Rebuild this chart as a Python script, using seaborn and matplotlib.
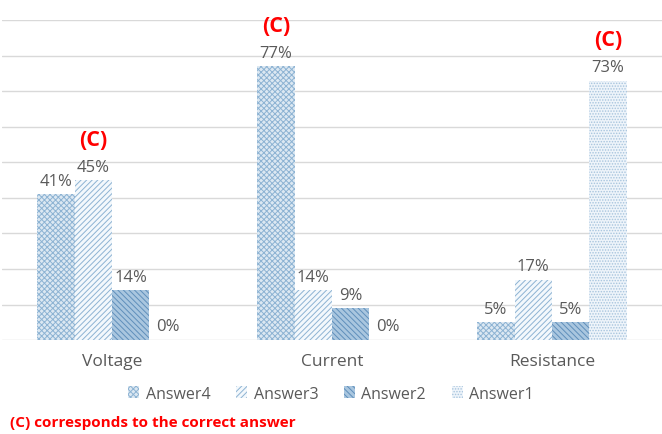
import pandas as pd
import seaborn as sns
import matplotlib.pyplot as plt
from matplotlib.patches import Patch

# data (percent of responses)
categories = ["Voltage", "Current", "Resistance"]
answers = ["Answer4", "Answer3", "Answer2", "Answer1"]
answer4 = [41, 77, 5]
answer3 = [45, 14, 17]
answer2 = [14, 9, 5]
answer1 = [0, 0, 73]
correct = {"Voltage": "Answer3", "Current": "Answer4", "Resistance": "Answer1"}

df = pd.DataFrame({
    "topic": categories * 4,
    "answer": [a for a in answers for _ in categories],
    "pct": answer4 + answer3 + answer2 + answer1,
})

sns.set_style("white")
plt.rcParams["font.family"] = ["Open Sans", "DejaVu Sans"]
plt.rcParams["hatch.linewidth"] = 0.7

# face colour, hatch colour, hatch pattern per answer
styles = {
    "Answer4": ("#dce8f2", "#8db3d3", "xxxxxx"),
    "Answer3": ("#f3f8fc", "#8db3d3", "//////"),
    "Answer2": ("#a9c6df", "#5f8fbb", "\\\\\\\\\\\\"),
    "Answer1": ("#eef4fa", "#a7c4dd", "......"),
}

fig, ax = plt.subplots(figsize=(6.62, 4.35), dpi=100)
fig.subplots_adjust(left=0.003, right=1.0, bottom=0.216, top=0.951)

sns.barplot(data=df, x="topic", y="pct", hue="answer", hue_order=answers,
            order=categories, width=0.68, ax=ax, legend=False, zorder=3)

for cont, ans in zip(ax.containers, answers):
    fc, hc, hatch = styles[ans]
    for bar, topic in zip(cont, categories):
        bar.set_facecolor(fc)
        bar.set_edgecolor(hc)
        bar.set_hatch(hatch)
        bar.set_linewidth(0)
        h = bar.get_height()
        x = bar.get_x() + bar.get_width() / 2
        ax.annotate(f"{h:.0f}%", (x, h), xytext=(0, 4), textcoords="offset points",
                    ha="center", va="bottom", fontsize=12, color="#595959")
        if correct[topic] == ans:
            ax.annotate("(C)", (x, h), xytext=(0, 22), textcoords="offset points",
                        ha="center", va="bottom", fontsize=15.5, fontweight="bold",
                        color="#ff0000")

ax.set_xlim(-0.5, 2.5)
ax.set_ylim(0, 90)
ax.set_yticks(range(0, 91, 10))
ax.set_yticklabels([])
ax.tick_params(axis="y", length=0)
ax.tick_params(axis="x", length=0, pad=9, labelsize=12.5, labelcolor="#595959")
ax.grid(axis="y", color="#d9d9d9", linewidth=1, zorder=0)
ax.set_axisbelow(True)
ax.set_xlabel("")
ax.set_ylabel("")
sns.despine(ax=ax, left=True, bottom=True, top=True, right=True)

handles = [Patch(facecolor=styles[a][0], edgecolor=styles[a][1], hatch=styles[a][2],
                 linewidth=0, label=a) for a in answers]
fig.legend(handles=handles, loc="center", bbox_to_anchor=(0.5, 0.093), ncol=4,
           frameon=False, fontsize=11.5, labelcolor="#595959", handlelength=0.7,
           handleheight=0.7, handletextpad=0.4, columnspacing=1.6)

fig.text(0.015, 0.028, "(C) corresponds to the correct answer", color="#ff0000",
         fontsize=11, fontweight="bold", ha="left", va="center")

fig.savefig("out.png", dpi=100)
